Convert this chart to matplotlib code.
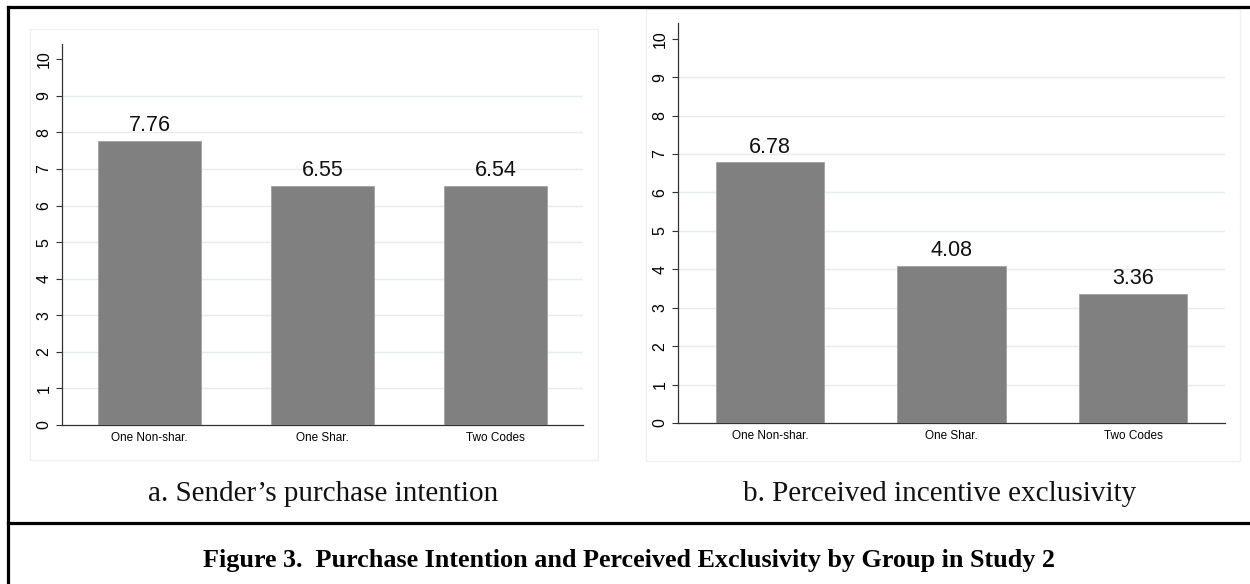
import matplotlib
matplotlib.use("Agg")
import matplotlib.pyplot as plt
from matplotlib.lines import Line2D
from matplotlib.patches import Rectangle

categories = ["One Non-shar.", "One Shar.", "Two Codes"]
purchase_intention = [7.76, 6.55, 6.54]
perceived_exclusivity = [6.78, 4.08, 3.36]
y_ticks = list(range(0, 11))
subcaption_a = "a. Sender\u2019s purchase intention"
subcaption_b = "b. Perceived incentive exclusivity"
caption = "Figure 3.  Purchase Intention and Perceived Exclusivity by Group in Study 2"

W, H = 1250, 584
fig = plt.figure(figsize=(W / 100, H / 100), dpi=100)
fig.patch.set_facecolor("white")

sans = ["Liberation Sans", "DejaVu Sans"]
serif = ["Liberation Serif", "DejaVu Serif"]


def px_rect(x0, y0, x1, y1):
    # pixel coords (top-left origin) -> figure fraction rect
    return [x0 / W, 1 - y1 / H, (x1 - x0) / W, (y1 - y0) / H]


def draw_panel(rect, values, ytop):
    ax = fig.add_axes(rect)
    x = list(range(1, len(categories) + 1))
    ax.bar(x, values, width=0.6, color="#808080", edgecolor="#a0a0a0",
           linewidth=0.6, zorder=3)
    for xi, v in zip(x, values):
        ax.annotate(f"{v:.2f}", (xi, v), xytext=(0, 3.5), textcoords="offset points",
                    ha="center", va="bottom", fontsize=15.5, family=sans,
                    color="#111111", zorder=4)
    ax.set_xlim(0.493, 3.507)
    ax.set_ylim(0, ytop)
    ax.set_yticks(y_ticks)
    ax.set_yticklabels([str(t) for t in y_ticks], rotation=90, va="center",
                       fontsize=11.5, family=sans)
    ax.set_xticks(x)
    ax.set_xticklabels(categories, fontsize=8.5, family=sans)
    ax.tick_params(axis="x", length=0, pad=5)
    ax.tick_params(axis="y", length=4.5, width=0.8, pad=3, color="#333333")
    for t in y_ticks[1:-1]:
        ax.axhline(t, color="#e4ecef", linewidth=1.0, zorder=1)
    for s in ("top", "right"):
        ax.spines[s].set_visible(False)
    for s in ("left", "bottom"):
        ax.spines[s].set_color("#333333")
        ax.spines[s].set_linewidth(0.9)
    ax.set_facecolor("none")
    return ax


draw_panel(px_rect(62, 44, 583, 425), purchase_intention, 10.42)
draw_panel(px_rect(678, 23, 1225, 423), perceived_exclusivity, 10.41)

# faint frames of the embedded chart images
for (x0, y0, x1, y1) in [(30, 29, 598, 460), (646, 9, 1240, 461)]:
    r = px_rect(x0, y0, x1, y1)
    fig.patches.append(Rectangle((r[0], r[1]), r[2], r[3], transform=fig.transFigure,
                                 fill=False, edgecolor="#eef0f3", linewidth=1.0))

# document table borders
lw = 2.3
fig.add_artist(Line2D([8 / W, 8 / W], [0, 1 - 7 / H], color="black", linewidth=lw,
                      transform=fig.transFigure))
fig.add_artist(Line2D([8 / W, 1], [1 - 7 / H, 1 - 7 / H], color="black", linewidth=lw,
                      transform=fig.transFigure))
fig.add_artist(Line2D([8 / W, 1], [1 - 523 / H, 1 - 523 / H], color="black", linewidth=lw,
                      transform=fig.transFigure))

fig.text(323.5 / W, 1 - 501 / H, subcaption_a, ha="center", va="baseline",
         fontsize=21, family=serif, color="#111111")
fig.text(940 / W, 1 - 501 / H, subcaption_b, ha="center", va="baseline",
         fontsize=21, family=serif, color="#111111")
fig.text(629 / W, 1 - 567 / H, caption, ha="center", va="baseline",
         fontsize=18.8, family=serif, fontweight="bold", color="black")

fig.savefig("out.png", dpi=100, facecolor="white")
